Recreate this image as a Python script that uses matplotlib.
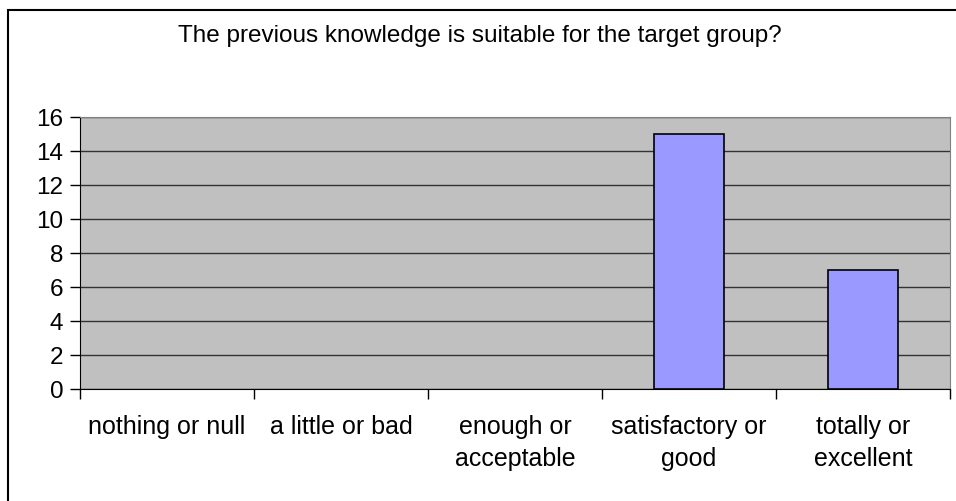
import matplotlib
matplotlib.use('Agg')
import matplotlib.pyplot as plt
from matplotlib.patches import Rectangle

# Survey answers
categories = ['nothing or null', 'a little or bad', 'enough or\nacceptable',
              'satisfactory or\ngood', 'totally or\nexcellent']
counts = [0, 0, 0, 15, 7]
yticks = [0, 2, 4, 6, 8, 10, 12, 14, 16]

plt.rcParams['font.family'] = ['Liberation Sans', 'DejaVu Sans']

fig = plt.figure(figsize=(9.56, 5.01), dpi=100)
ax = fig.add_axes([80 / 956, 1 - 389 / 501, 870 / 956, 272 / 501])

# Outer chart border (runs off the right and bottom edges)
fig.patches.append(Rectangle((8 / 956, -0.1), 1.2, 1 - 10 / 501 + 0.1,
                             transform=fig.transFigure, fill=False,
                             edgecolor='black', linewidth=1.5))

ax.set_facecolor('#C0C0C0')
x = list(range(len(categories)))
bars = ax.bar(x, counts, width=0.4, color='#9999FF', edgecolor='black', linewidth=1.2, zorder=3)
for b, c in zip(bars, counts):
    if c == 0:
        b.set_visible(False)

ax.set_xlim(-0.5, len(categories) - 0.5)
ax.set_ylim(0, 16)
ax.set_yticks(yticks)
ax.yaxis.grid(True, color='#333333', linewidth=1)
ax.set_axisbelow(True)

# x ticks at category boundaries, labels in the middle
ax.set_xticks([i - 0.5 for i in range(len(categories) + 1)])
ax.set_xticklabels([])
ax.set_xticks(x, minor=True)
ax.set_xticklabels(categories, minor=True, fontsize=18, linespacing=1.4)
ax.tick_params(axis='x', which='minor', length=0, pad=19)
ax.tick_params(axis='x', which='major', length=7, width=1, direction='out')
ax.tick_params(axis='y', length=7, width=1, direction='out', labelsize=17.5, pad=5)

ax.spines['top'].set_color('#808080')
ax.spines['right'].set_color('#808080')
ax.spines['left'].set_color('black')
ax.spines['bottom'].set_color('black')

fig.text(480 / 956, 1 - 42 / 501, 'The previous knowledge is suitable for the target group?',
         ha='center', va='baseline', fontsize=17.5)

fig.savefig('out.png', dpi=100)
